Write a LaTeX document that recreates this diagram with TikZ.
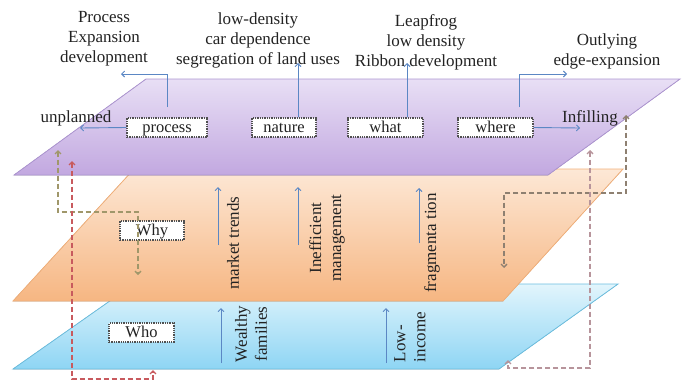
\documentclass[tikz,border=0pt]{standalone}
\usepackage{fontspec}
\setmainfont{Liberation Serif}
\usetikzlibrary{arrows.meta}

\definecolor{purpletop}{HTML}{E8DFF5}
\definecolor{purplebot}{HTML}{C2A8E0}
\definecolor{purpleedge}{HTML}{AE96D2}
\definecolor{orangetop}{HTML}{FDE8D6}
\definecolor{orangebot}{HTML}{F6B682}
\definecolor{orangeedge}{HTML}{F2B07A}
\definecolor{bluetop}{HTML}{E2F5FC}
\definecolor{bluebot}{HTML}{8ED5F4}
\definecolor{blueedge}{HTML}{6CBFE0}
\definecolor{flowblue}{HTML}{5B87C4}
\definecolor{boxgray}{HTML}{505050}
\definecolor{txt}{HTML}{222222}
\definecolor{olive}{HTML}{A0976A}
\definecolor{redloop}{HTML}{C85A5E}
\definecolor{brownloop}{HTML}{8E8071}
\definecolor{pinkloop}{HTML}{B7949B}

\begin{document}
\begin{tikzpicture}[x=1pt,y=-1pt,
  layer/.style={line width=0.8pt},
  lbl/.style={font=\fontsize{17}{20}\selectfont, text=txt, inner sep=0pt, align=center},
  vlbl/.style={lbl, rotate=90},
  tagbox/.style={draw=boxgray, fill=white, densely dotted, line width=1.3pt,
    minimum height=19pt, inner sep=0pt, text height=12pt, text depth=2pt,
    text=txt, font=\fontsize{16.5}{20}\selectfont},
  flow/.style={draw=flowblue, line width=0.9pt, -{Straight Barb[length=3pt,width=6pt]}},
  loop/.style={dash pattern=on 5pt off 3pt, line width=1.3pt,
    {Straight Barb[length=3pt,width=6pt]}-{Straight Barb[length=3pt,width=6pt]}}
]
\useasboundingbox (0,0) rectangle (684,381);

% three stacked planes, drawn back to front
\fill[top color=bluetop, bottom color=bluebot] (13,369) -- (499,369) -- (618,284) -- (134,284) -- cycle;
\draw[layer, draw=blueedge] (13,369) -- (499,369) -- (618,284) -- (134,284) -- cycle;
\fill[top color=orangetop, bottom color=orangebot] (13,301) -- (503,301) -- (623,169) -- (134,169) -- cycle;
\draw[layer, draw=orangeedge] (13,301) -- (503,301) -- (623,169) -- (134,169) -- cycle;
\fill[top color=purpletop, bottom color=purplebot] (14,175) -- (548,175) -- (680,79) -- (146,79) -- cycle;
\draw[layer, draw=purpleedge] (14,175) -- (548,175) -- (680,79) -- (146,79) -- cycle;

% descriptions above the top plane
\node[lbl] (procdesc) at (104,39) {Process\\Expansion\\development};
\node[lbl] (natdesc) at (258,40) {low-density\\car dependence\\segregation of land uses};
\node[lbl] (whatdesc) at (426,42) {Leapfrog\\low density\\Ribbon development};
\node[lbl] (wheredesc) at (607,51) {Outlying\\edge-expansion};
\node[lbl] (unpl) at (76,118) {unplanned};
\node[lbl] (infill) at (590,118) {Infilling};

% tags on the planes
\node[tagbox, minimum width=80pt] (process) at (167,127.5) {process};
\node[tagbox, minimum width=64pt] (nature) at (284,127.5) {nature};
\node[tagbox, minimum width=75pt] (what) at (385.5,127.5) {what};
\node[tagbox, minimum width=75pt] (where) at (495.5,127.5) {where};
\node[tagbox, minimum width=64pt] (why) at (152,230.5) {Why};
\node[tagbox, minimum width=65pt] (who) at (141.5,332.5) {Who};

% flows out of the top plane
\coordinate (procfoot) at (167,107);
\coordinate (proctip) at (121,74);
\coordinate (unpltip) at (80,128);
\coordinate (nattip) at (298,63);
\coordinate (whattip) at (407,63);
\coordinate (wherefoot) at (519,107);
\coordinate (wheretip) at (567,74);
\coordinate (infilltip) at (580,128);
\draw[flow] (procfoot) |- (proctip);
\draw[flow] (process.west) -- (unpltip);
\draw[flow] ([xshift=14pt]nature.north) -- (nattip);
\draw[flow] ([xshift=21.5pt]what.north) -- (whattip);
\draw[flow] (wherefoot) |- (wheretip);
\draw[flow] (where.east) -- (infilltip);

% causes on the middle plane
\coordinate (mkfoot) at (218,245); \coordinate (mktip) at (218,187);
\coordinate (imfoot) at (298,245); \coordinate (imtip) at (298,187);
\coordinate (frfoot) at (419,243); \coordinate (frtip) at (419,188);
\draw[flow] (mkfoot) -- (mktip);
\draw[flow] (imfoot) -- (imtip);
\draw[flow] (frfoot) -- (frtip);
\node[vlbl] (market) at (233,243) {market trends};
\node[vlbl] (ineff) at (327,238) {Inefficient\\management};
\node[vlbl] (frag) at (432,243) {fragmenta tion};

% actors on the bottom plane
\coordinate (wffoot) at (221,363); \coordinate (wftip) at (221,308);
\coordinate (lifoot) at (386,363); \coordinate (litip) at (386,308);
\draw[flow] (wffoot) -- (wftip);
\draw[flow] (lifoot) -- (litip);
\node[vlbl] (wealthy) at (251,334) {Wealthy\\families};
\node[vlbl, align=left] (lowinc) at (410,337) {Low-\\income};

% dashed feedback loops between the planes
\coordinate (oA) at (58,150); \coordinate (oB) at (138,275);
\draw[loop, draw=olive] (oA) -- (58,212) -- (138,212) -- (oB);
\coordinate (rA) at (72,161); \coordinate (rB) at (153,370);
\draw[loop, draw=redloop] (rA) -- (72,379) -- (153,379) -- (rB);
\coordinate (bA) at (626,115); \coordinate (bB) at (504,268);
\draw[loop, draw=brownloop] (bA) -- (626,193) -- (504,193) -- (bB);
\coordinate (pA) at (590,150); \coordinate (pB) at (508,360);
\draw[loop, draw=pinkloop] (pA) -- (590,368) -- (508,368) -- (pB);
\end{tikzpicture}
\end{document}
